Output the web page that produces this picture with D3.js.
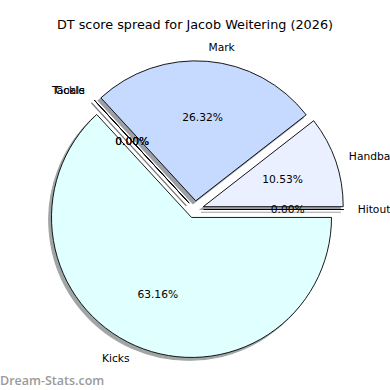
<!DOCTYPE html>
<html>
<head>
<meta charset="utf-8">
<script src="https://cdn.jsdelivr.net/npm/d3@7"></script>
<style>
  body { margin: 0; background: #fff; }
  svg { display: block; font-family: "DejaVu Sans", sans-serif; }
</style>
</head>
<body>
<svg id="chart" width="390" height="390"></svg>
<script>
// counter-clockwise from 3 o'clock, like matplotlib
const categories = ["Hitout", "Handball", "Mark", "Goals", "Tackle", "Kicks"];
const scores = [0, 2, 5, 0, 0, 12];
const colours = ["#f0f4ff", "#eaf0ff", "#c6d9ff", "#dde6ff", "#e6ecff", "#e0ffff"];
const title = "DT score spread for Jacob Weitering (2026)";

const width = 390, height = 390;
const cx = 195, cy = 209.5;
const radius = 140;
const explode = 0.062;
const shadowOff = 2.8;

const svg = d3.select("#chart");

const pie = d3.pie()
    .sort(null)
    .value(d => d)
    .startAngle(Math.PI / 2)
    .endAngle(Math.PI / 2 - 2 * Math.PI);

const arcs = pie(scores);
const total = d3.sum(scores);
const arc = d3.arc().innerRadius(0).outerRadius(radius);

const mid = d => (d.startAngle + d.endAngle) / 2;
const dir = a => [Math.sin(a), -Math.cos(a)];
const off = (d, k) => {
    const [x, y] = dir(mid(d));
    return [cx + x * k, cy + y * k];
};
const ex = explode * radius;
const dark = c => {
    const rgb = d3.rgb(c);
    return d3.rgb(rgb.r * 0.3, rgb.g * 0.3, rgb.b * 0.3);
};

// shadows underneath everything
svg.append("g")
    .selectAll("path")
    .data(arcs)
    .join("path")
    .attr("transform", d => {
        const [x, y] = off(d, ex);
        return `translate(${x - shadowOff},${y + shadowOff})`;
    })
    .attr("d", arc)
    .attr("fill", (d, i) => dark(colours[i]))
    .attr("stroke", (d, i) => dark(colours[i]))
    .attr("stroke-width", 1.1)
    .attr("opacity", 0.5);

svg.append("g")
    .selectAll("path")
    .data(arcs)
    .join("path")
    .attr("transform", d => {
        const [x, y] = off(d, ex);
        return `translate(${x},${y})`;
    })
    .attr("d", arc)
    .attr("fill", (d, i) => colours[i])
    .attr("stroke", "#000")
    .attr("stroke-width", 0.9);

// category labels
svg.append("g")
    .selectAll("text")
    .data(arcs)
    .join("text")
    .attr("x", d => off(d, ex + radius * 1.1)[0])
    .attr("y", d => off(d, ex + radius * 1.1)[1])
    .attr("dy", "0.35em")
    .attr("text-anchor", d => off(d, ex + radius * 1.1)[0] > cx ? "start" : "end")
    .attr("font-size", 10.7)
    .attr("fill", "#000")
    .text((d, i) => categories[i]);

// percentages
svg.append("g")
    .selectAll("text")
    .data(arcs)
    .join("text")
    .attr("x", d => off(d, ex + radius * 0.6)[0])
    .attr("y", d => off(d, ex + radius * 0.6)[1])
    .attr("dy", "0.35em")
    .attr("text-anchor", "middle")
    .attr("font-size", 10.7)
    .attr("fill", "#000")
    .text(d => (d.data / total * 100).toFixed(2) + "%");

svg.append("text")
    .attr("x", width / 2)
    .attr("y", 25)
    .attr("dy", "0.35em")
    .attr("text-anchor", "middle")
    .attr("font-size", 12.8)
    .text(title);

svg.append("text")
    .attr("x", 0)
    .attr("y", 384.5)
    .attr("font-family", "'Open Sans', sans-serif")
    .attr("font-size", 12.5)
    .attr("font-weight", 600)
    .attr("fill", "#9a9a9a")
    .text("Dream-Stats.com");
</script>
</body>
</html>
